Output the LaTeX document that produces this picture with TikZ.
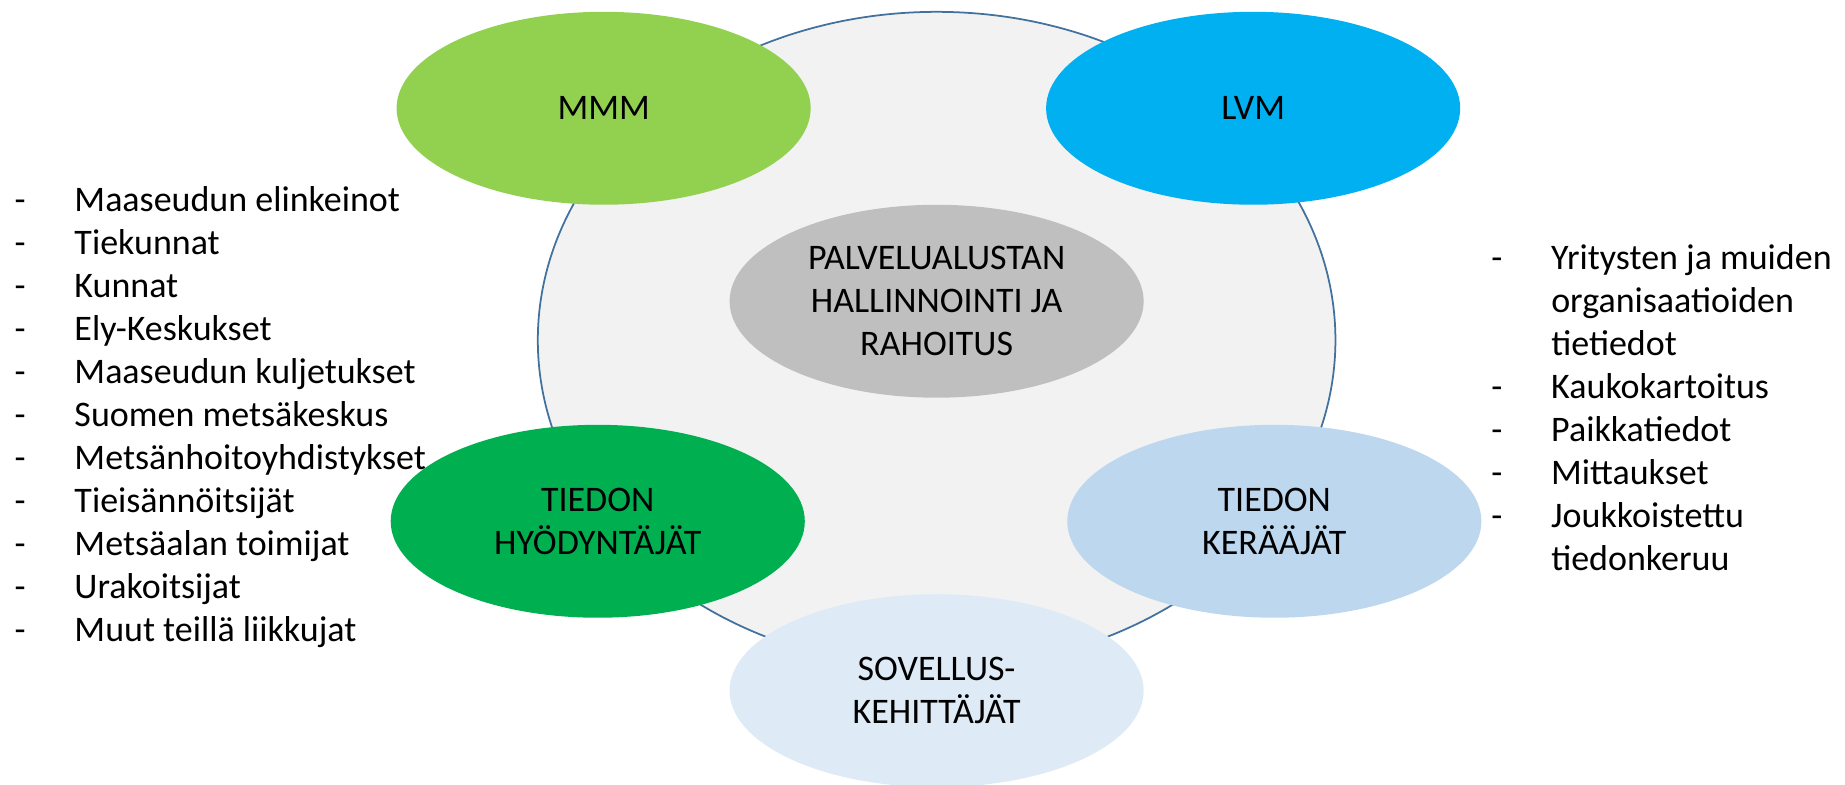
\documentclass[tikz,border=0pt]{standalone}
\usepackage{fontspec}
\setmainfont{Carlito}
\usetikzlibrary{shapes.geometric}
\definecolor{rim}{HTML}{41719C}
\definecolor{base}{HTML}{F2F2F2}
\definecolor{mmmgreen}{HTML}{92D050}
\definecolor{lvmblue}{HTML}{00B0F0}
\definecolor{hubgray}{HTML}{BFBFBF}
\definecolor{usegreen}{HTML}{00B050}
\definecolor{colblue}{HTML}{BDD7EE}
\definecolor{devblue}{HTML}{DEEBF7}
\begin{document}
\begin{tikzpicture}[x=0.02cm,y=-0.02cm]
  \tikzset{ e/.style={ellipse,inner sep=0pt,minimum width=7.04cm,minimum height=3.28cm,
      align=center,font=\fontsize{17.4}{20.8}\selectfont},
    lst/.style={anchor=base west,inner sep=0pt,font=\fontsize{17.4}{20.8}\selectfont},
  }
  \useasboundingbox (0,0) rectangle (1568,667);
  \node[ellipse,draw=rim,line width=0.85pt,fill=base,minimum width=13.56cm,minimum height=11.16cm] (base) at (796,289) {};
  \node[e,fill=mmmgreen] (mmm) at (513,92) {MMM};
  \node[e,fill=lvmblue] (lvm) at (1065,92) {LVM};
  \node[e,fill=hubgray] (hub) at (796,256) {PALVELUALUSTAN\\HALLINNOINTI JA\\RAHOITUS};
  \node[e,fill=usegreen] (use) at (508,443) {TIEDON\\HYÖDYNTÄJÄT};
  \node[e,fill=colblue] (col) at (1083,443) {TIEDON\\KERÄÄJÄT};
  \node[e,fill=devblue] (dev) at (796,587) {SOVELLUS-\\KEHITTÄJÄT};

  % the lists beside the circle
  \node[lst] (left) at (12,180) {\begin{tabular}[t]{@{}p{1.02cm}@{}l@{}}
    - & Maaseudun elinkeinot\\
    - & Tiekunnat\\
    - & Kunnat\\
    - & Ely-Keskukset\\
    - & Maaseudun kuljetukset\\
    - & Suomen metsäkeskus\\
    - & Metsänhoitoyhdistykset\\
    - & Tieisännöitsijät\\
    - & Metsäalan toimijat\\
    - & Urakoitsijat\\
    - & Muut teillä liikkujat
  \end{tabular}};
  \node[lst] (right) at (1267,229) {\begin{tabular}[t]{@{}p{1.02cm}@{}l@{}}
    - & Yritysten ja muiden\\
      & organisaatioiden\\
      & tietiedot\\
    - & Kaukokartoitus\\
    - & Paikkatiedot\\
    - & Mittaukset\\
    - & Joukkoistettu\\
      & tiedonkeruu
  \end{tabular}};
\end{tikzpicture}
\end{document}
